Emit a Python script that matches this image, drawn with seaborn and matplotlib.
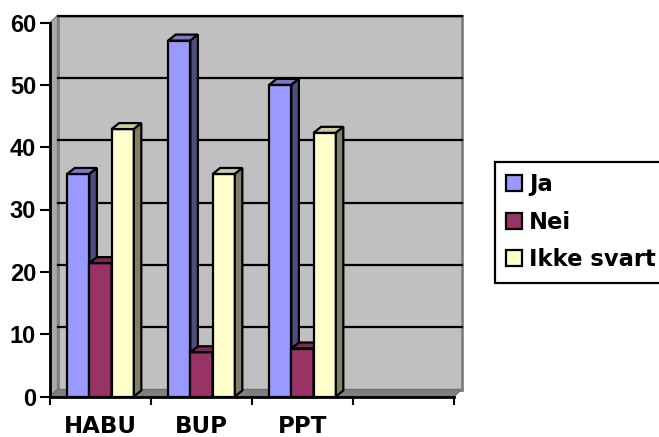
import pandas as pd
import matplotlib.pyplot as plt
import seaborn as sns
from matplotlib.patches import Polygon, Patch, Rectangle

# Data (percent of answers per service)
kategorier = ['HABU', 'BUP', 'PPT']
svar = ['Ja', 'Nei', 'Ikke svart']
ja = [35.7, 57.1, 50.0]
nei = [21.4, 7.1, 7.7]
ikke_svart = [42.9, 35.7, 42.3]

farger = {'Ja': '#9999FF', 'Nei': '#993366', 'Ikke svart': '#FFFFCC'}

rows = []
for i, k in enumerate(kategorier):
    rows.append((k, 'Ja', ja[i]))
    rows.append((k, 'Nei', nei[i]))
    rows.append((k, 'Ikke svart', ikke_svart[i]))
df = pd.DataFrame(rows, columns=['Kategori', 'Svar', 'Prosent'])

W, H = 659, 437
fig = plt.figure(figsize=(W / 100, H / 100), dpi=100)
ax = fig.add_axes([50 / W, (H - 396.5) / H, 404 / W, 374 / H])
ax.set_facecolor('none')

sns.barplot(data=df, x='Kategori', y='Prosent', hue='Svar', order=kategorier,
            hue_order=svar, palette=farger, width=0.66, saturation=1,
            edgecolor='black', linewidth=1.6, ax=ax)
ax.set_xlim(-0.5, 3.5)
ax.set_ylim(0, 60)

# the bar patches drawn by seaborn
bars = sorted([p for p in ax.patches if isinstance(p, Rectangle) and p.get_height() > 0],
              key=lambda p: p.get_x())

# depth of the fake 3D effect, pixels -> data units
dx = 7.5 / (404 / 4)
dy = 7.0 / (374 / 60)
bdx = 7.5 / (404 / 4)
bdy = 6.0 / (374 / 60)

# back wall, left wall, floor
ax.add_patch(Polygon([(-0.5 + dx, dy), (3.5 + dx, dy), (3.5 + dx, 60 + dy), (-0.5 + dx, 60 + dy)],
                     closed=True, facecolor='#C0C0C0', edgecolor='#808080', lw=2,
                     clip_on=False, zorder=0))
ax.add_patch(Polygon([(-0.5, 0), (-0.5 + dx, dy), (-0.5 + dx, 60 + dy), (-0.5, 60)],
                     closed=True, facecolor='#A8A8A8', edgecolor='#808080', lw=1,
                     clip_on=False, zorder=0.5))
ax.add_patch(Polygon([(-0.5, 0), (3.5, 0), (3.5 + dx, dy), (-0.5 + dx, dy)],
                     closed=True, facecolor='#808080', edgecolor='#707070', lw=1,
                     clip_on=False, zorder=0.6))
for v in range(10, 61, 10):
    ax.plot([-0.5 + dx, 3.5 + dx], [v + dy, v + dy], color='black', lw=1.6,
            clip_on=False, zorder=1)


def skygge(rgb, f):
    return tuple(v * f for v in rgb[:3])


# top and side faces of the bars
for i, p in enumerate(bars):
    x0, w, h = p.get_x(), p.get_width(), p.get_height()
    c = p.get_facecolor()
    z = 3 + i * 0.1
    p.set_zorder(z)
    ax.add_patch(Polygon([(x0, h), (x0 + w, h), (x0 + w + bdx, h + bdy), (x0 + bdx, h + bdy)],
                         closed=True, facecolor=skygge(c, 0.8), edgecolor='black', lw=1.6,
                         clip_on=False, zorder=z + 0.01))
    ax.add_patch(Polygon([(x0 + w, 0), (x0 + w + bdx, bdy), (x0 + w + bdx, h + bdy), (x0 + w, h)],
                         closed=True, facecolor=skygge(c, 0.5), edgecolor='black', lw=1.6,
                         clip_on=False, zorder=z + 0.02))

# axes styling
for s in ['top', 'right']:
    ax.spines[s].set_visible(False)
for s in ['left', 'bottom']:
    ax.spines[s].set_color('black')
    ax.spines[s].set_linewidth(2)
    ax.spines[s].set_zorder(10)

ax.set_yticks(range(0, 61, 10))
ax.tick_params(axis='y', length=7, width=1.5, pad=3, labelsize=17, colors='black')
for t in ax.get_yticklabels():
    t.set_fontfamily('Liberation Sans')
    t.set_fontweight('bold')

ax.set_xticks([-0.5, 0.5, 1.5, 2.5, 3.5])
ax.set_xticklabels([])
ax.tick_params(axis='x', which='major', length=6, width=1.5, direction='out')
ax.set_xticks([0, 1, 2], minor=True)
ax.set_xticklabels(kategorier, minor=True, fontsize=16.5, fontweight='bold')
ax.tick_params(axis='x', which='minor', length=0, pad=13)
ax.set_xlabel('')
ax.set_ylabel('')

# legend
ax.get_legend().remove()
handles = [Patch(facecolor=farger[s], edgecolor='black', lw=1.6) for s in svar]
leg = fig.legend(handles, svar, loc='upper left', bbox_to_anchor=(495 / W, 1 - 162 / H),
                 frameon=True, fancybox=False, edgecolor='black', framealpha=1,
                 prop={'weight': 'bold', 'size': 16.3}, handlelength=0.7,
                 handleheight=0.7, handletextpad=0.3, labelspacing=0.64,
                 borderpad=0.5, borderaxespad=0)
leg.get_frame().set_linewidth(1.6)

fig.savefig('out.png', dpi=100)
